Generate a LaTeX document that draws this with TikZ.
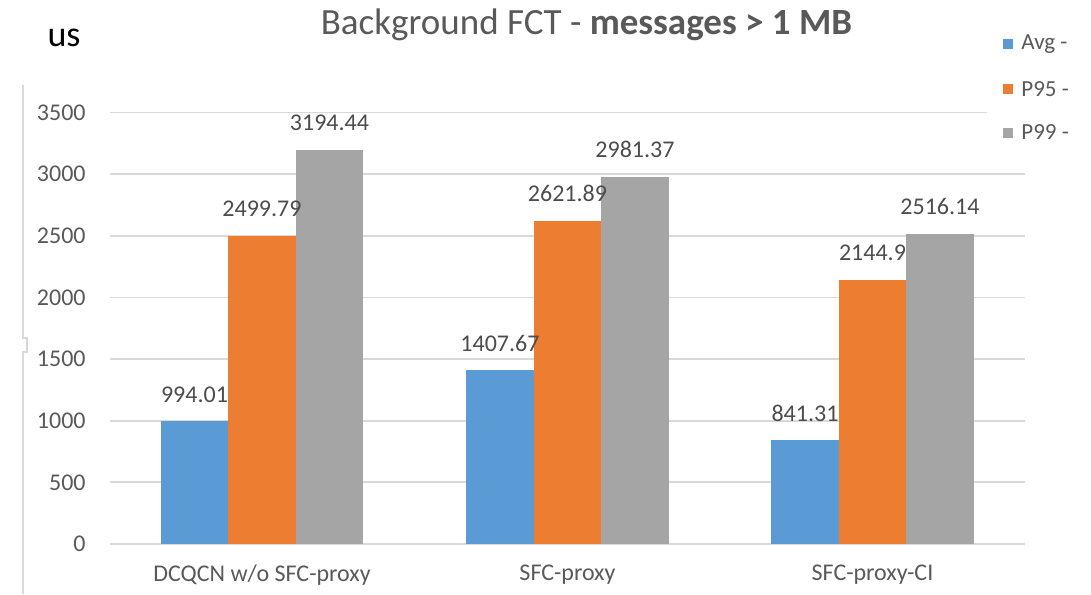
\documentclass[tikz,border=0pt]{standalone}
\usepackage{fontspec}
\setmainfont{Carlito}
\definecolor{avgblue}{HTML}{5B9BD5}
\definecolor{pfiveorange}{HTML}{ED7D31}
\definecolor{pninegray}{HTML}{A5A5A5}
\definecolor{textgray}{HTML}{595959}
\definecolor{gridgray}{HTML}{D9D9D9}
\begin{document}
\begin{tikzpicture}[x=0.5pt,y=-0.5pt,
  grid line/.style={draw=gridgray, line width=0.9pt},
  tick label/.style={anchor=east, inner sep=0pt, text=textgray, font=\fontsize{12}{14}\selectfont},
  value label/.style={anchor=center, inner sep=0pt, yshift=13.5pt, text=textgray!85!black, font=\fontsize{12}{14}\selectfont},
  cat label/.style={anchor=center, inner sep=0pt, text=textgray, font=\fontsize{12}{14}\selectfont},
  legend box/.style={minimum width=5pt, minimum height=5pt, inner sep=0pt},
  legend text/.style={anchor=west, inner sep=0pt, text=textgray, font=\fontsize{11.5}{13}\selectfont}]
\useasboundingbox (0,0) rectangle (1091,594);
% title and unit
\node[inner sep=0pt, text=textgray, font=\fontsize{18.5}{22}\selectfont] (title) at (586.5,25) {Background FCT - \textbf{messages > 1 MB}};
\node[inner sep=0pt, font=\fontsize{18}{22}\selectfont] (unit) at (64,38) {us};
% left frame line
\draw[gridgray, line width=0.9pt] (23.3,85) -- (23.3,338) -- (26.7,338) -- (26.7,352) -- (23.3,352) -- (23.3,594);
% legend
\node[legend box, fill=avgblue] (legAvg) at (1008,44) {};
\node[legend text] (legAvgT) at (1021,44) {Avg -};
\node[legend box, fill=pfiveorange] (legPfive) at (1008,89) {};
\node[legend text] (legPfiveT) at (1021,89) {P95 -};
\node[legend box, fill=pninegray] (legPnine) at (1008,132.5) {};
\node[legend text] (legPnineT) at (1021,132.5) {P99 -};

\begin{scope}[shift={(0,544)}, y=0.06163pt]
% grid and ticks
\draw[grid line] (110,0) -- (1025,0);
\draw[grid line] (110,500) -- (1025,500);
\draw[grid line] (110,1000) -- (1025,1000);
\draw[grid line] (110,1500) -- (1025,1500);
\draw[grid line] (110,2000) -- (1025,2000);
\draw[grid line] (110,2500) -- (1025,2500);
\draw[grid line] (110,3000) -- (1025,3000);
\draw[grid line] (110,3500) -- (987,3500);
\node[tick label] (tick0) at (86,0) {0};
\node[tick label] (tick500) at (86,500) {500};
\node[tick label] (tick1000) at (86,1000) {1000};
\node[tick label] (tick1500) at (86,1500) {1500};
\node[tick label] (tick2000) at (86,2000) {2000};
\node[tick label] (tick2500) at (86,2500) {2500};
\node[tick label] (tick3000) at (86,3000) {3000};
\node[tick label] (tick3500) at (86,3500) {3500};
% DCQCN w/o SFC-proxy
\fill[avgblue] (160.75,0) rectangle (228.25,994.01);
\fill[pfiveorange] (228.25,0) rectangle (295.75,2499.79);
\fill[pninegray] (295.75,0) rectangle (363.25,3194.44);
\node[value label] (valA1) at (194.5,994.01) {994.01};
\node[value label] (valA2) at (262,2499.79) {2499.79};
\node[value label] (valA3) at (329.5,3194.44) {3194.44};
% SFC-proxy
\fill[avgblue] (466.25,0) rectangle (533.75,1407.67);
\fill[pfiveorange] (533.75,0) rectangle (601.25,2621.89);
\fill[pninegray] (601.25,0) rectangle (668.75,2981.37);
\node[value label] (valB1) at (500,1407.67) {1407.67};
\node[value label] (valB2) at (567.5,2621.89) {2621.89};
\node[value label] (valB3) at (635,2981.37) {2981.37};
% SFC-proxy-CI
\fill[avgblue] (771.25,0) rectangle (838.75,841.31);
\fill[pfiveorange] (838.75,0) rectangle (906.25,2144.9);
\fill[pninegray] (906.25,0) rectangle (973.75,2516.14);
\node[value label] (valC1) at (805,841.31) {841.31};
\node[value label] (valC2) at (872.5,2144.9) {2144.9};
\node[value label] (valC3) at (940,2516.14) {2516.14};
\end{scope}

% categories
\node[cat label] (catA) at (262,575) {DCQCN w/o SFC-proxy};
\node[cat label] (catB) at (567.5,575) {SFC-proxy};
\node[cat label] (catC) at (872.5,575) {SFC-proxy-CI};
\end{tikzpicture}
\end{document}
